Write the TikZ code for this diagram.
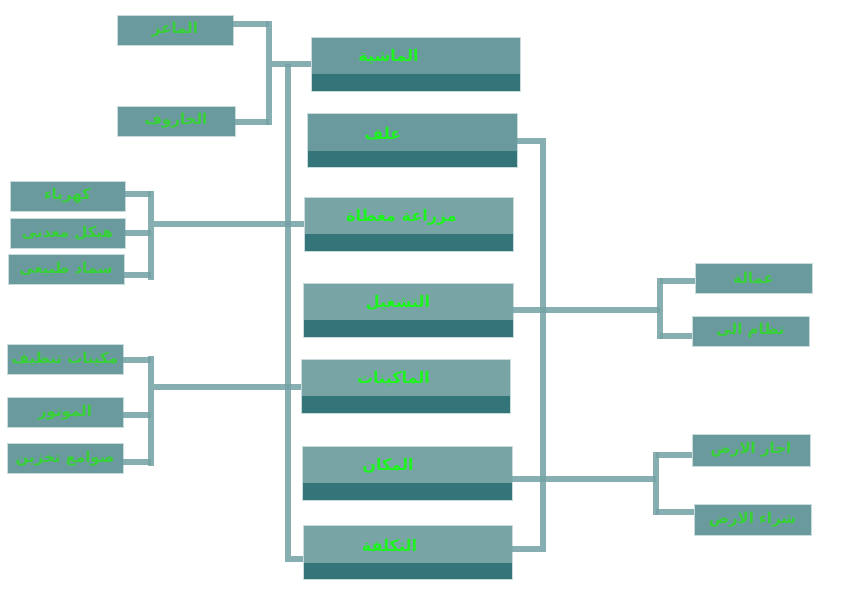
\documentclass[tikz,border=0pt]{standalone}
\usepackage{fontspec}
\newfontfamily\arabicfont[Script=Arabic]{DejaVu Sans}
\TeXXeTstate=1
\usepackage{tikz}
\usetikzlibrary{calc}
\definecolor{boxfill}{HTML}{6A9A9E}
\definecolor{boxlight}{HTML}{78A4A6}
\definecolor{boxdark}{HTML}{337579}
\definecolor{boxedge}{HTML}{C9DCDD}
\definecolor{linkcol}{HTML}{72A2A5}
\definecolor{maingreen}{HTML}{1EF41E}
\definecolor{subgreen}{HTML}{36D236}
\tikzset{subbox/.style={draw=boxedge, line width=0.8pt, fill=boxfill,
  minimum width=116pt, minimum height=30pt, inner sep=0pt,
  text=subgreen, font=\arabicfont\bfseries\fontsize{15}{17}\selectfont}}
\tikzset{mainbox/.style={draw=boxedge, line width=0.8pt, fill=boxlight,
  minimum width=209pt, minimum height=54pt, inner sep=0pt,
  path picture={\fill[boxdark] (path picture bounding box.south west)
    rectangle ([yshift=17pt]path picture bounding box.south east);}}}
\tikzset{maintext/.style={text=maingreen, font=\arabicfont\bfseries\fontsize{16}{18}\selectfont,
  anchor=center, yshift=7pt}}
\tikzset{link/.style={draw=linkcol, line width=6pt, draw opacity=0.85}}

\begin{document}
\begin{tikzpicture}[x=1pt, y=-1pt]
	\useasboundingbox[fill=white] (0,0) rectangle (842,595);

	% middle column
	\node[mainbox, fill=boxfill, label={[maintext, xshift=-27pt]center:\beginR الماشية\endR}] (mashia) at (415.5,64) {};
	\node[mainbox, fill=boxfill, minimum width=210pt, label={[maintext, xshift=-29pt]center:\beginR علف\endR}] (alaf) at (412,140.5) {};
	\node[mainbox, label={[maintext, xshift=-7pt]center:\beginR مزراعة مغطاة\endR}] (mazraa) at (408.5,224) {};
	\node[mainbox, minimum width=210pt, label={[maintext, xshift=-10pt]center:\beginR التشغيل\endR}] (tashgheel) at (408,310) {};
	\node[mainbox, label={[maintext, xshift=-12pt]center:\beginR الماكينات\endR}] (makinat) at (405.5,386) {};
	\node[mainbox, minimum width=210pt, label={[maintext, xshift=-19pt]center:\beginR المكان\endR}] (makan) at (407,473) {};
	\node[mainbox, label={[maintext, xshift=-18pt]center:\beginR التكلفة\endR}] (takalifa) at (407.5,552.5) {};

	% left side
	\node[subbox] (maaz) at (175,30) {\beginR الماعز\endR};
	\node[subbox, minimum width=118pt] (kharouf) at (176,121) {\beginR الخاروف\endR};
	\node[subbox, minimum width=115pt] (kahraba) at (67.5,196) {\beginR كهرباء\endR};
	\node[subbox, minimum width=115pt] (haykal) at (67.5,233.5) {\beginR هيكل معدنى\endR};
	\node[subbox] (samad) at (66,269.5) {\beginR سماد طبيعى\endR};
	\node[subbox] (tanzif) at (65,359) {\beginR مكينات تنظيف\endR};
	\node[subbox] (motor) at (65,412.5) {\beginR الموتور\endR};
	\node[subbox] (sawamie) at (65,458.5) {\beginR صوامع تخزين\endR};

	% right side
	\node[subbox, minimum width=117pt] (amala) at (753.5,278) {\beginR عمالة\endR};
	\node[subbox, minimum width=117pt] (nizam) at (750.5,331) {\beginR نظام الى\endR};
	\node[subbox, minimum width=118pt, minimum height=32pt] (ijar) at (751,450) {\beginR اجار الارض\endR};
	\node[subbox, minimum width=117pt, minimum height=31pt] (shiraa) at (752.5,519.5) {\beginR شراء الارض\endR};

	% bars
	\coordinate (goatT) at (269,21);
	\coordinate (goatB) at (269,125);
	\coordinate (goatJ) at (272,64);
	\coordinate (leftbar) at (288,64);
	\coordinate (rightB) at (543,549);
	\coordinate (elecT) at (151,191);
	\coordinate (elecB) at (151,280);
	\coordinate (elecJ) at (154,224);
	\coordinate (machT) at (151,356);
	\coordinate (machB) at (151,466);
	\coordinate (machJ) at (154,387);
	\coordinate (workT) at (660,278);
	\coordinate (workB) at (660,339);
	\coordinate (landT) at (656,452);
	\coordinate (landB) at (656,515);

	\draw[link] ([yshift=6pt]maaz.east) -- ++(36,0);
	\draw[link] ([yshift=-1pt]kharouf.east) -- ++(34,0);
	\draw[link] (goatT) -- (goatB);
	\draw[link] (goatJ) -- (mashia.west);

	\draw[link] (leftbar) |- ([yshift=-6pt]takalifa.west);
	\draw[link] (alaf.east) -| (rightB) -- ([yshift=3.5pt]takalifa.east);

	\draw[link] ([yshift=2pt]kahraba.east) -- ++(26,0);
	\draw[link] ([yshift=1pt]haykal.east) -- ++(26,0);
	\draw[link] ([yshift=-5pt]samad.east) -- ++(27,0);
	\draw[link] (elecT) -- (elecB);
	\draw[link] (elecJ) -- (mazraa.west);

	\draw[link] ([yshift=-1pt]tanzif.east) -- ++(28,0);
	\draw[link] ([yshift=-2.5pt]motor.east) -- ++(28,0);
	\draw[link] ([yshift=-3.5pt]sawamie.east) -- ++(28,0);
	\draw[link] (machT) -- (machB);
	\draw[link] (machJ) -- ([yshift=-1pt]makinat.west);

	\draw[link] (tashgheel.east) -- (tashgheel.east -| workT);
	\draw[link] (workT) -- (workB);
	\draw[link] ([yshift=-3pt]amala.west) -- ++(-35,0);
	\draw[link] ([yshift=-5pt]nizam.west) -- ++(-32,0);

	\draw[link] ([yshift=-6pt]makan.east) -- ++(144,0);
	\draw[link] (landT) -- (landB);
	\draw[link] ([yshift=-5pt]ijar.west) -- ++(-36,0);
	\draw[link] ([yshift=7.5pt]shiraa.west) -- ++(-38,0);
\end{tikzpicture}
\end{document}
